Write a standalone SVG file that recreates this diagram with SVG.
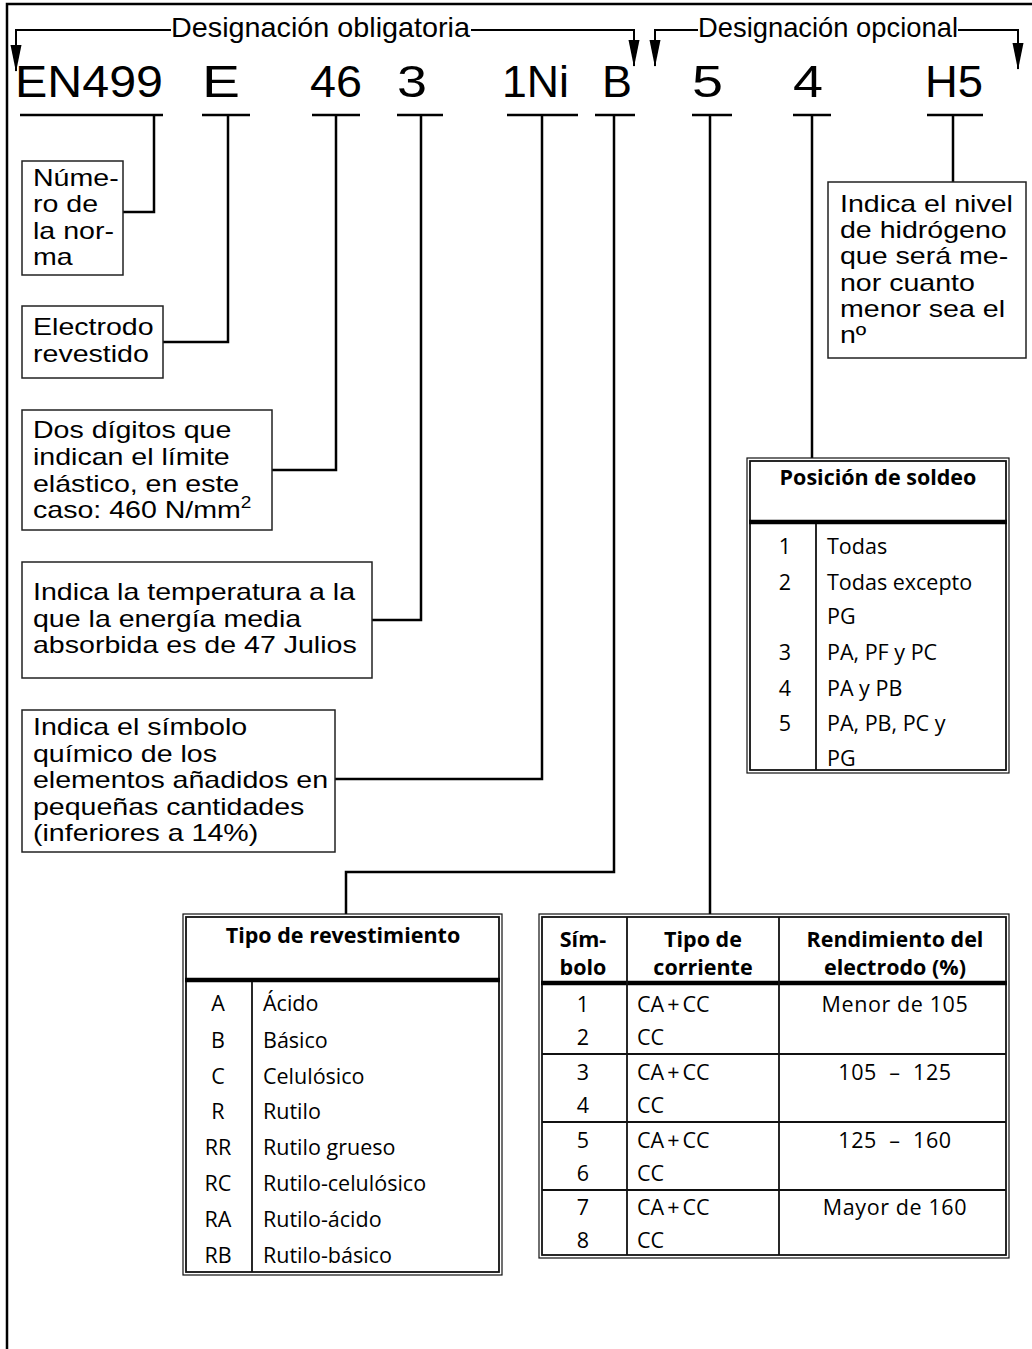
<svg xmlns="http://www.w3.org/2000/svg" width="1032" height="1349" viewBox="0 0 1032 1349">
  <style>
    .frame { fill: none; stroke: #000; stroke-width: 2.5; }
    .conn { fill: none; stroke: #000; stroke-width: 2.5; }
    .brk { fill: none; stroke: #000; stroke-width: 2; }
    .box { fill: #fff; stroke: #222; stroke-width: 1.5; }
    .t { font-family: "Liberation Sans", Arial, sans-serif; font-size: 24px; fill: #000; }
    .hdr { font-family: "Liberation Sans", Arial, sans-serif; font-size: 28px; fill: #000; }
    .big { font-family: "Liberation Sans", Arial, sans-serif; font-size: 44px; fill: #000; }
    .tb { font-family: "Open Sans", "Noto Sans", sans-serif; font-size: 21.5px; font-weight: 500; fill: #000; }
    .tbh { font-weight: 700; }
    .mid { text-anchor: middle; }
    .pre { white-space: pre; }
    .tout { fill: #fff; stroke: #111; stroke-width: 1.2; }
    .tin { fill: none; stroke: #111; stroke-width: 1.8; }
    .thick { stroke: #000; stroke-width: 4.5; }
    .rule { stroke: #111; stroke-width: 1.8; }
  </style>
  <defs>
    <marker id="arrow" viewBox="0 -6 27 12" refX="26" refY="0" markerWidth="27" markerHeight="12" markerUnits="userSpaceOnUse" orient="auto">
      <path d="M0,-5.5 L27,0 L0,5.5 Z" fill="#000"/>
    </marker>
  </defs>

  <rect width="1032" height="1349" fill="#fff"/>

  <!-- page frame -->
  <path class="frame" d="M7,1349 V4 H1032"/>

  <!-- designation brackets -->
  <g id="brackets">
    <path class="brk" d="M171,30 H16 V71" marker-end="url(#arrow)"/>
    <path class="brk" d="M471,30 H634 V66" marker-end="url(#arrow)"/>
    <path class="brk" d="M698,30 H655 V66" marker-end="url(#arrow)"/>
    <path class="brk" d="M958,30 H1018 V69" marker-end="url(#arrow)"/>
    <text class="hdr" x="171" y="37" textLength="299" lengthAdjust="spacingAndGlyphs">Designación obligatoria</text>
    <text class="hdr" x="698" y="37" textLength="260" lengthAdjust="spacingAndGlyphs">Designación opcional</text>
  </g>

  <!-- electrode code -->
  <g id="code">
    <text class="big" x="15" y="97" textLength="148" lengthAdjust="spacingAndGlyphs">EN499</text>
    <text class="big" x="202" y="97" textLength="38" lengthAdjust="spacingAndGlyphs">E</text>
    <text class="big" x="310" y="97" textLength="52" lengthAdjust="spacingAndGlyphs">46</text>
    <text class="big" x="397" y="97" textLength="30" lengthAdjust="spacingAndGlyphs">3</text>
    <text class="big" x="502" y="97" textLength="67" lengthAdjust="spacingAndGlyphs">1Ni</text>
    <text class="big" x="602" y="97" textLength="30" lengthAdjust="spacingAndGlyphs">B</text>
    <text class="big" x="692" y="97" textLength="31" lengthAdjust="spacingAndGlyphs">5</text>
    <text class="big" x="793" y="97" textLength="30" lengthAdjust="spacingAndGlyphs">4</text>
    <text class="big" x="925" y="97" textLength="58" lengthAdjust="spacingAndGlyphs">H5</text>
  </g>

  <!-- connectors: underline, stem and elbow to each explanation -->
  <g id="connectors">
    <path class="conn" d="M20,115 H163 M154,115 V212 H123"/>
    <path class="conn" d="M202,115 H250 M228,115 V342 H163"/>
    <path class="conn" d="M312,115 H360 M336,115 V470 H272"/>
    <path class="conn" d="M397,115 H443 M421,115 V620 H372"/>
    <path class="conn" d="M507,115 H578 M542,115 V779 H335"/>
    <path class="conn" d="M595,115 H635 M614,115 V872 H346 V914"/>
    <path class="conn" d="M692,115 H732 M710,115 V914"/>
    <path class="conn" d="M793,115 H831 M812,115 V458"/>
    <path class="conn" d="M927,115 H983 M953,115 V182"/>
  </g>

  <g id="norma">
    <rect class="box" x="22" y="161" width="101" height="114"/>
    <text class="t" transform="translate(33,0) scale(1.19,1)">
      <tspan x="0" y="186">Núme-</tspan>
      <tspan x="0" y="212">ro de</tspan>
      <tspan x="0" y="239">la nor-</tspan>
      <tspan x="0" y="265">ma</tspan>
    </text>
  </g>

  <g id="electrodo">
    <rect class="box" x="22" y="306" width="141" height="72"/>
    <text class="t" transform="translate(33,0) scale(1.19,1)">
      <tspan x="0" y="335">Electrodo</tspan>
      <tspan x="0" y="362">revestido</tspan>
    </text>
  </g>

  <g id="limite">
    <rect class="box" x="22" y="410" width="250" height="120"/>
    <text class="t" transform="translate(33,0) scale(1.19,1)">
      <tspan x="0" y="438">Dos dígitos que</tspan>
      <tspan x="0" y="465">indican el límite</tspan>
      <tspan x="0" y="492">elástico, en este</tspan>
      <tspan x="0" y="518">caso: 460 N/mm</tspan><tspan font-size="16" dy="-10">2</tspan>
    </text>
  </g>

  <g id="temperatura">
    <rect class="box" x="22" y="562" width="350" height="116"/>
    <text class="t" transform="translate(33,0) scale(1.19,1)">
      <tspan x="0" y="600">Indica la temperatura a la</tspan>
      <tspan x="0" y="627">que la energía media</tspan>
      <tspan x="0" y="653">absorbida es de 47 Julios</tspan>
    </text>
  </g>

  <g id="simbolo">
    <rect class="box" x="22" y="710" width="313" height="142"/>
    <text class="t" transform="translate(33,0) scale(1.19,1)">
      <tspan x="0" y="735">Indica el símbolo</tspan>
      <tspan x="0" y="762">químico de los</tspan>
      <tspan x="0" y="788">elementos añadidos en</tspan>
      <tspan x="0" y="815">pequeñas cantidades</tspan>
      <tspan x="0" y="841">(inferiores a 14%)</tspan>
    </text>
  </g>

  <g id="hidrogeno">
    <rect class="box" x="828" y="182" width="198" height="176"/>
    <text class="t" transform="translate(840,0) scale(1.19,1)">
      <tspan x="0" y="212">Indica el nivel</tspan>
      <tspan x="0" y="238">de hidrógeno</tspan>
      <tspan x="0" y="264">que será me-</tspan>
      <tspan x="0" y="291">nor cuanto</tspan>
      <tspan x="0" y="317">menor sea el</tspan>
      <tspan x="0" y="343">nº</tspan>
    </text>
  </g>

  <!-- welding position table -->
  <g id="posicion">
    <rect class="tout" x="747" y="458" width="262" height="315"/>
    <rect class="tin" x="750" y="461" width="256" height="309"/>
    <line class="thick" x1="749" y1="522" x2="1007" y2="522"/>
    <line class="rule" x1="816" y1="524" x2="816" y2="770"/>
    <text class="tb tbh mid" x="878" y="485">Posición de soldeo</text>
    <g class="tb">
      <text class="mid" x="785" y="554">1</text>
      <text x="827" y="554">Todas</text>
      <text class="mid" x="785" y="590">2</text>
      <text x="827" y="590">Todas excepto</text>
      <text x="827" y="624">PG</text>
      <text class="mid" x="785" y="660">3</text>
      <text x="827" y="660">PA, PF y PC</text>
      <text class="mid" x="785" y="696">4</text>
      <text x="827" y="696">PA y PB</text>
      <text class="mid" x="785" y="731">5</text>
      <text x="827" y="731">PA, PB, PC y</text>
      <text x="827" y="766">PG</text>
    </g>
  </g>

  <!-- coating type table -->
  <g id="revestimiento">
    <rect class="tout" x="183" y="914" width="319" height="361"/>
    <rect class="tin" x="186" y="917" width="313" height="355"/>
    <line class="thick" x1="185" y1="980" x2="500" y2="980"/>
    <line class="rule" x1="252" y1="982" x2="252" y2="1272"/>
    <text class="tb tbh mid" x="343" y="943">Tipo de revestimiento</text>
    <g class="tb">
      <text class="mid" x="218" y="1011">A</text>
      <text x="263" y="1011">Ácido</text>
      <text class="mid" x="218" y="1048">B</text>
      <text x="263" y="1048">Básico</text>
      <text class="mid" x="218" y="1084">C</text>
      <text x="263" y="1084">Celulósico</text>
      <text class="mid" x="218" y="1119">R</text>
      <text x="263" y="1119">Rutilo</text>
      <text class="mid" x="218" y="1155">RR</text>
      <text x="263" y="1155">Rutilo grueso</text>
      <text class="mid" x="218" y="1191">RC</text>
      <text x="263" y="1191">Rutilo-celulósico</text>
      <text class="mid" x="218" y="1227">RA</text>
      <text x="263" y="1227">Rutilo-ácido</text>
      <text class="mid" x="218" y="1263">RB</text>
      <text x="263" y="1263">Rutilo-básico</text>
    </g>
  </g>

  <!-- current type and efficiency table -->
  <g id="rendimiento">
    <rect class="tout" x="539" y="914" width="470" height="344"/>
    <rect class="tin" x="542" y="917" width="464" height="338"/>
    <line class="thick" x1="541" y1="983" x2="1007" y2="983"/>
    <line class="rule" x1="627" y1="917" x2="627" y2="1255"/>
    <line class="rule" x1="779" y1="917" x2="779" y2="1255"/>
    <line class="rule" x1="542" y1="1054" x2="1006" y2="1054"/>
    <line class="rule" x1="542" y1="1122" x2="1006" y2="1122"/>
    <line class="rule" x1="542" y1="1190" x2="1006" y2="1190"/>
    <g class="tb tbh mid">
      <text x="583" y="947">Sím-</text>
      <text x="583" y="975">bolo</text>
      <text x="703" y="947">Tipo de</text>
      <text x="703" y="975">corriente</text>
      <text x="895" y="947">Rendimiento del</text>
      <text x="895" y="975">electrodo (%)</text>
    </g>
    <g class="tb">
      <text class="mid" x="583" y="1012">1</text>
      <text x="637" y="1012">CA<tspan dx="3">+</tspan><tspan dx="3">CC</tspan></text>
      <text class="mid" x="583" y="1045">2</text>
      <text x="637" y="1045">CC</text>
      <text class="mid" x="583" y="1080">3</text>
      <text x="637" y="1080">CA<tspan dx="3">+</tspan><tspan dx="3">CC</tspan></text>
      <text class="mid" x="583" y="1113">4</text>
      <text x="637" y="1113">CC</text>
      <text class="mid" x="583" y="1148">5</text>
      <text x="637" y="1148">CA<tspan dx="3">+</tspan><tspan dx="3">CC</tspan></text>
      <text class="mid" x="583" y="1181">6</text>
      <text x="637" y="1181">CC</text>
      <text class="mid" x="583" y="1215">7</text>
      <text x="637" y="1215">CA<tspan dx="3">+</tspan><tspan dx="3">CC</tspan></text>
      <text class="mid" x="583" y="1248">8</text>
      <text x="637" y="1248">CC</text>
      <text class="mid" x="895" y="1012" letter-spacing="0.6">Menor de 105</text>
      <text class="mid pre" x="895" y="1080" letter-spacing="0.6">105  –  125</text>
      <text class="mid pre" x="895" y="1148" letter-spacing="0.6">125  –  160</text>
      <text class="mid" x="895" y="1215" letter-spacing="0.6">Mayor de 160</text>
    </g>
  </g>
</svg>
